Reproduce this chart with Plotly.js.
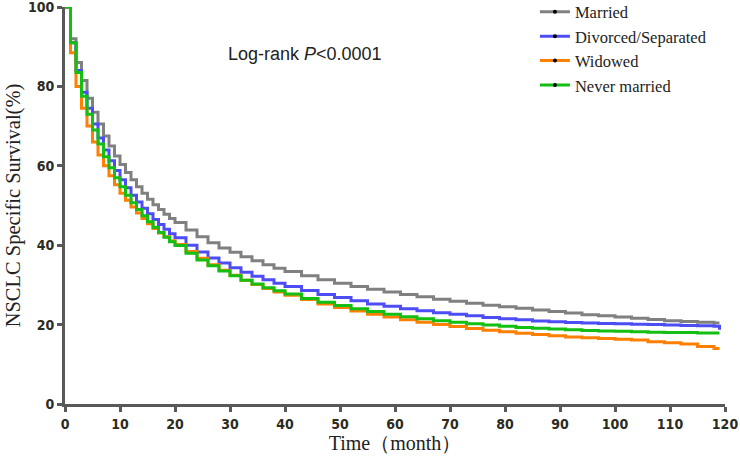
<!DOCTYPE html>
<html>
<head>
<meta charset="utf-8">
<script src="https://cdn.plot.ly/plotly-3.0.1.min.js"></script>
<style>html,body{margin:0;padding:0;background:#fff;}#chart{width:740px;height:458px;}</style>
</head>
<body>
<div id="chart"></div>
<script>
// Time points (months)
const months = [0,1,2,3,4,5,6,7,8,9,10,11,12,13,14,15,16,17,18,19,20,22,24,26,28,30,32,34,36,38,40,43,46,49,52,55,58,61,64,67,70,73,76,79,82,85,88,91,94,97,100,103,106,109,112,115,118,119];

// Survival (%) per group
const married = [100,92,86,81.5,77,73.5,70.5,67.5,65,62.5,60.3,58.3,56.5,54.7,53.1,51.6,50.2,49,47.8,46.7,45.7,43.8,42.1,40.6,39.3,38.2,37.1,36.1,35.1,34.2,33.4,32.3,31.3,30.4,29.6,28.9,28.2,27.6,27,26.4,25.9,25.4,24.9,24.5,24.1,23.7,23.3,22.9,22.5,22.2,21.9,21.6,21.3,21,20.8,20.6,20.4,20.4];
const divorced = [100,91,84,78.5,74.5,70.5,67,64,61.3,58.8,56.5,54.5,52.6,50.9,49.3,47.9,46.5,45.2,44,42.9,41.9,40,38.3,36.8,35.5,34.3,33.2,32.2,31.3,30.4,29.6,28.6,27.6,26.8,26,25.2,24.6,24,23.5,23,22.6,22.2,21.8,21.5,21.2,20.9,20.7,20.5,20.4,20.3,20.2,20.1,20,19.9,19.8,19.7,19.6,18.7];
const widowed = [100,88.5,80,74.5,70,66,62.7,60,57.5,55.2,53.1,51.3,49.6,48.1,46.7,45.4,44.2,43.1,42.1,41.1,40.2,38.4,36.7,35.1,33.7,32.4,31.2,30.1,29.1,28.2,27.4,26.3,25.2,24.3,23.4,22.6,21.9,21.2,20.6,20,19.5,19,18.6,18.2,17.8,17.5,17.2,16.9,16.7,16.5,16.3,16.1,15.7,15.4,15.1,14.5,14,14];
const neverMarried = [100,91,83.5,77.5,73,69,65.5,62.3,59.5,57,54.7,52.6,50.7,49,47.4,45.9,44.5,43.2,42,40.9,39.9,38,36.3,34.8,33.5,32.3,31.2,30.2,29.3,28.5,27.7,26.6,25.6,24.8,24,23.3,22.6,22,21.5,21,20.6,20.2,19.9,19.6,19.3,19.1,18.9,18.7,18.5,18.4,18.3,18.2,18.1,18,18,17.9,17.9,17.9];

const groupNames = ["Married","Divorced/Separated","Widowed","Never married"];
const groupColors = ["#808080","#4d4df5","#ff8000","#12bf12"];
const groupValues = [married, divorced, widowed, neverMarried];

const xTicks = [0,10,20,30,40,50,60,70,80,90,100,110,120];
const yTicks = [0,20,40,60,80,100];

const traces = [];
groupValues.forEach((vals, i) => {
  traces.push({
    x: months, y: vals, type: 'scatter', mode: 'lines',
    line: {color: groupColors[i], width: 3, shape: 'hv'},
    showlegend: false, hoverinfo: 'skip'
  });
});
// Legend entries (line with a dot)
groupNames.forEach((name, i) => {
  traces.push({
    x: [null], y: [null], type: 'scatter', mode: 'lines+markers', name: name,
    line: {color: groupColors[i], width: 3},
    marker: {color: '#000', size: 4},
    showlegend: true
  });
});

const tickFont = {family: '"Liberation Sans Narrow","DejaVu Sans Condensed","Liberation Sans",Arial,sans-serif', size: 14, color: '#2b2b1e', weight: 'bold'};
const serif = '"Liberation Serif","Times New Roman",serif';

const layout = {
  width: 740, height: 458,
  margin: {l: 65, r: 15, t: 7, b: 54, autoexpand: false},
  paper_bgcolor: '#fff', plot_bgcolor: '#fff',
  showlegend: true,
  legend: {x: 0.712, y: 1.0315, xanchor: 'left', yanchor: 'top', bgcolor: 'rgba(0,0,0,0)',
           font: {family: serif, size: 16.5, color: '#222'}, itemwidth: 30, tracegroupgap: 0},
  xaxis: {
    range: [0, 120], tickvals: xTicks, ticktext: xTicks.map(String),
    showgrid: false, zeroline: false, showline: true, linecolor: '#585858', linewidth: 3,
    ticks: 'outside', ticklen: 5, tickwidth: 3, tickcolor: '#585858',
    tickfont: tickFont, ticklabeloverflow: 'allow',
    title: {text: 'Time（month）', font: {family: serif, size: 20, color: '#222'}, standoff: 4}
  },
  yaxis: {
    range: [0, 100], tickvals: yTicks, ticktext: yTicks.map(String),
    showgrid: false, zeroline: false, showline: true, linecolor: '#585858', linewidth: 3,
    ticks: 'outside', ticklen: 5, tickwidth: 3, tickcolor: '#585858',
    tickfont: tickFont, ticklabeloverflow: 'allow',
    title: {text: 'NSCLC Specific Survival(%)', font: {family: serif, size: 20.5, color: '#222'}, standoff: 2}
  },
  annotations: [{
    xref: 'paper', yref: 'paper', x: 0.364, y: 0.882, xanchor: 'center', yanchor: 'middle',
    text: 'Log-rank <i>P</i>&lt;0.0001', showarrow: false,
    font: {family: '"Liberation Sans",Arial,sans-serif', size: 18, color: '#222'}
  }]
};

Plotly.newPlot('chart', traces, layout, {displayModeBar: false, staticPlot: true});
</script>
</body>
</html>
